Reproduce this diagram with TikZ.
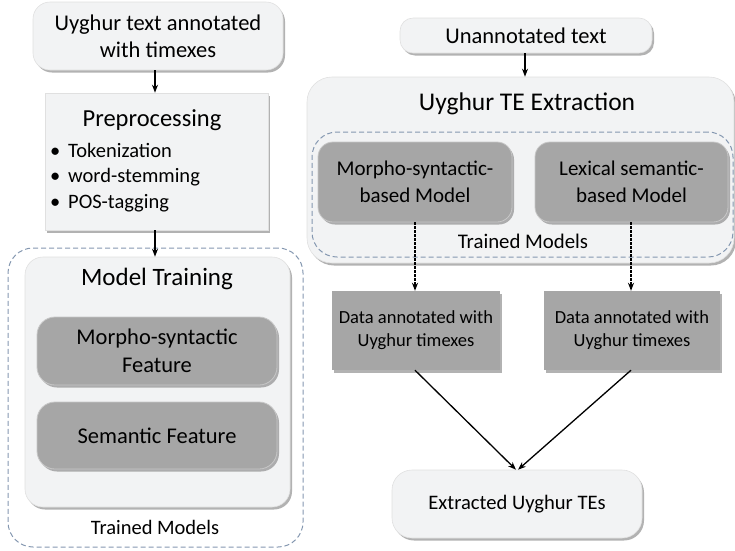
\documentclass[tikz,border=0pt]{standalone}
\usepackage{fontspec}
\setmainfont{Carlito}
\usetikzlibrary{shadows,arrows.meta}
\definecolor{lightbox}{HTML}{F2F3F4}
\definecolor{darkbox}{HTML}{A6A6A6}
\definecolor{dashcol}{HTML}{8497B0}
\newcommand\fsz[2]{\fontsize{#1}{#2}\selectfont}
\begin{document}
\begin{tikzpicture}[x=1pt,y=-1pt,
  shade/.style={drop shadow={shadow xshift=2pt,shadow yshift=-2.5pt,fill=black!55,opacity=0.55}},
  lightnode/.style={draw=black!12, line width=0.6pt, fill=lightbox, rounded corners=#1, shade, inner sep=0pt, align=center},
  lightnode/.default=15pt,
  darknode/.style={draw=black!22, line width=0.8pt, fill=darkbox, rounded corners=#1, shade, inner sep=0pt, align=center},
  darknode/.default=15pt,
  lightrect/.style={draw=black!12, line width=0.6pt, fill=lightbox, shade, inner sep=0pt},
  darkrect/.style={fill=darkbox, shade, inner sep=0pt, align=center},
  dashbox/.style={draw=dashcol, line width=1pt, dash pattern=on 5pt off 3pt, rounded corners=25pt, inner sep=0pt},
  arr/.style={line width=1.3pt, -{Stealth[length=8pt,width=6pt]}},
  dotarr/.style={line width=1.4pt, dash pattern=on 2.5pt off 1.5pt, -{Stealth[length=8pt,width=6pt]}},
  plain/.style={inner sep=0pt}
]
\useasboundingbox (0,0) rectangle (735,550);

% ---------- left column ----------
\node[lightnode=17pt, minimum width=250pt, minimum height=68pt, font=\fsz{22.5}{27}] (src) at (158,36) {Uyghur text annotated\\with timexes};

\node[lightrect, minimum width=223pt, minimum height=137pt] (pre) at (156.5,161.5) {};
\node[plain, font=\fsz{24.5}{29}, anchor=base] (pretitle) at (152,126) {Preprocessing};
\node[plain, font=\fsz{20.5}{25}, anchor=base west] (bul1) at (50,157) {\makebox[18pt][l]{•}Tokenization};
\node[plain, font=\fsz{20.5}{25}, anchor=base west] (bul2) at (50,182.5) {\makebox[18pt][l]{•}word-stemming};
\node[plain, font=\fsz{20.5}{25}, anchor=base west] (bul3) at (50,208) {\makebox[18pt][l]{•}POS-tagging};

\node[dashbox, minimum width=295pt, minimum height=299pt] (tml) at (155.5,397.5) {};
\node[lightnode=18pt, minimum width=265pt, minimum height=250pt] (mt) at (157.5,382) {};
\node[plain, font=\fsz{25}{30}, anchor=base] (mttitle) at (157,285) {Model Training};
\node[darknode=18pt, minimum width=240pt, minimum height=68pt, font=\fsz{22.5}{28}] (mf) at (157,351) {Morpho-syntactic\\Feature};
\node[darknode=18pt, minimum width=240pt, minimum height=67pt, font=\fsz{22.5}{28}] (sf) at (157,435.5) {Semantic Feature};
\node[plain, font=\fsz{20.5}{25}, anchor=base] (tmltext) at (155,534) {Trained Models};

\draw[arr] (src.south -| 155,0) -- (pre.north -| 155,0);
\draw[arr] (pre.south -| 155,0) -- (mt.north -| 155,0);

% ---------- right column ----------
\node[lightnode=13pt, minimum width=252pt, minimum height=35pt, font=\fsz{22.5}{27}] (un) at (526,35.5) {Unannotated text};
\node[lightnode=25pt, minimum width=427pt, minimum height=186pt] (te) at (520.5,170) {};
\node[plain, font=\fsz{25.5}{30}, anchor=base] (tetitle) at (527,110) {Uyghur TE Extraction};
\node[dashbox, minimum width=421pt, minimum height=125pt] (tmr) at (522.5,194.5) {};
\node[darknode=15pt, minimum width=194pt, minimum height=80pt, font=\fsz{21}{27}] (mm) at (415,182) {Morpho-syntactic-\\based Model};
\node[darknode=15pt, minimum width=193pt, minimum height=80pt, font=\fsz{21}{27}] (lm) at (631.5,182) {Lexical semantic-\\based Model};
\node[plain, font=\fsz{20.8}{25}, anchor=base] (tmrtext) at (523,248) {Trained Models};

\draw[arr] (un.south -| 525,0) -- (te.north -| 525,0);

\node[darkrect, minimum width=168pt, minimum height=79pt, font=\fsz{18.5}{23}] (d1) at (416,330.5) {Data annotated with\\Uyghur timexes};
\node[darkrect, minimum width=176pt, minimum height=79pt, font=\fsz{18.5}{23}] (d2) at (632,330.5) {Data annotated with\\Uyghur timexes};

\draw[dotarr] (mm.south -| 415,0) -- (d1.north -| 415,0);
\draw[dotarr] (lm.south -| 631,0) -- (d2.north -| 631,0);

\node[lightnode=20pt, minimum width=250pt, minimum height=68pt, font=\fsz{20.6}{25}] (ext) at (517,504) {Extracted Uyghur TEs};

\draw[arr] (d1.south -| 415,0) -- ([xshift=-1pt]ext.north);
\draw[arr] (d2.south -| 631,0) -- ([xshift=1pt]ext.north);
\end{tikzpicture}
\end{document}
